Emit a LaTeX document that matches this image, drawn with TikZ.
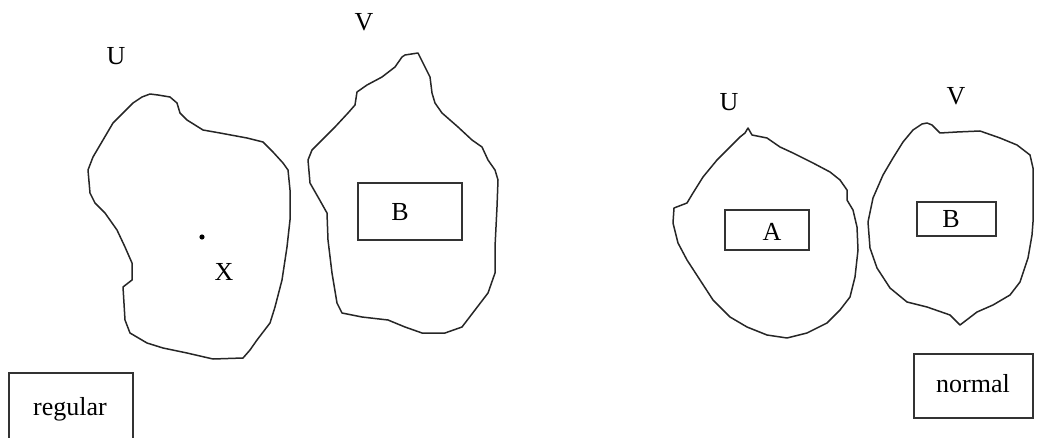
\documentclass[tikz,border=0pt]{standalone}
\usepackage{fontspec}
\setmainfont{Liberation Serif}
\begin{document}
\begin{tikzpicture}[x=1pt,y=-1pt,
  blob/.style={draw=black!85,line width=1.5pt,line join=round},
  box/.style={draw=black!80,line width=1.3pt,rectangle,inner sep=0pt},
  lbl/.style={font=\fontsize{26}{30}\selectfont,inner sep=0pt}]
\useasboundingbox (0,0) rectangle (1043,438);
% left U
\draw[blob] (150,94) -- (158,95) -- (170,97) -- (177,103) -- (180,113) -- (187,120) -- (203,130) -- (220,133) -- (247,138) -- (263,142) -- (273,152) -- (283,163) -- (288,170) -- (290,190) -- (290,220) -- (287,247) -- (282,280) -- (275,307) -- (270,323) -- (257,340) -- (250,350) -- (243,358) -- (213,359) -- (187,353) -- (163,348) -- (147,343) -- (130,333) -- (125,320) -- (123,287) -- (132,280) -- (132,263) -- (125,247) -- (117,230) -- (105,213) -- (95,203) -- (90,193) -- (88,170) -- (93,157) -- (103,140) -- (113,123) -- (123,113) -- (133,103) -- (142,97) -- cycle;
% left V
\draw[blob] (405,55) -- (418,53) -- (423,63) -- (430,77) -- (432,93) -- (435,103) -- (442,113) -- (458,127) -- (472,140) -- (482,147) -- (488,160) -- (495,170) -- (498,180) -- (497,207) -- (495,247) -- (495,273) -- (488,293) -- (475,310) -- (462,327) -- (445,333) -- (422,333) -- (405,327) -- (388,320) -- (362,317) -- (342,313) -- (337,303) -- (332,273) -- (328,240) -- (327,213) -- (318,197) -- (310,183) -- (308,160) -- (312,150) -- (322,140) -- (335,127) -- (348,113) -- (355,105) -- (357,92) -- (367,85) -- (382,77) -- (395,67) -- (402,57) -- cycle;
% right U
\draw[blob] (748,128) -- (752,135) -- (767,138) -- (780,147) -- (793,153) -- (813,163) -- (830,172) -- (840,180) -- (847,190) -- (847,200) -- (853,210) -- (857,227) -- (858,250) -- (855,277) -- (850,297) -- (840,310) -- (827,323) -- (807,333) -- (787,338) -- (767,335) -- (747,327) -- (730,317) -- (713,300) -- (700,280) -- (687,260) -- (678,243) -- (673,223) -- (674,208) -- (687,203) -- (693,193) -- (703,177) -- (717,160) -- (730,147) -- (740,137) -- (745,133) -- cycle;
% right V
\draw[blob] (927,123) -- (932,125) -- (940,133) -- (957,132) -- (980,131) -- (1000,138) -- (1017,145) -- (1030,155) -- (1033,168) -- (1033,198) -- (1033,222) -- (1032,235) -- (1028,258) -- (1020,282) -- (1010,295) -- (993,305) -- (977,312) -- (960,325) -- (950,315) -- (927,307) -- (907,302) -- (890,288) -- (877,268) -- (870,248) -- (868,222) -- (873,198) -- (883,175) -- (893,158) -- (903,142) -- (913,130) -- (922,124) -- cycle;
% labels
\node[lbl] (u1) at (116,56) {U};
\node[lbl] (v1) at (364,22) {V};
\node[lbl] (u2) at (729,102) {U};
\node[lbl] (v2) at (956,96) {V};
\fill (202,237) circle (2.6pt) coordinate (x0);
\node[lbl] (xl) at (224,272) {X};
% boxes
\node[box,minimum width=104pt,minimum height=57pt] (b1) at (410,211.5) {};
\node[lbl] (b1t) at (400,212) {B};
\node[box,minimum width=84pt,minimum height=40pt] (a2) at (767,230) {};
\node[lbl] (a2t) at (772,232) {A};
\node[box,minimum width=79pt,minimum height=34pt] (b2) at (956.5,219) {};
\node[lbl] (b2t) at (951,219) {B};
\draw[box] (9,450) -- (9,373) -- (133,373) -- (133,450);
\node[lbl] (reg) at (70,409) {regular};
\node[box,minimum width=119pt,minimum height=64pt] (nor) at (973.5,386) {};
\node[lbl] (nort) at (973,384) {normal};
\end{tikzpicture}
\end{document}
